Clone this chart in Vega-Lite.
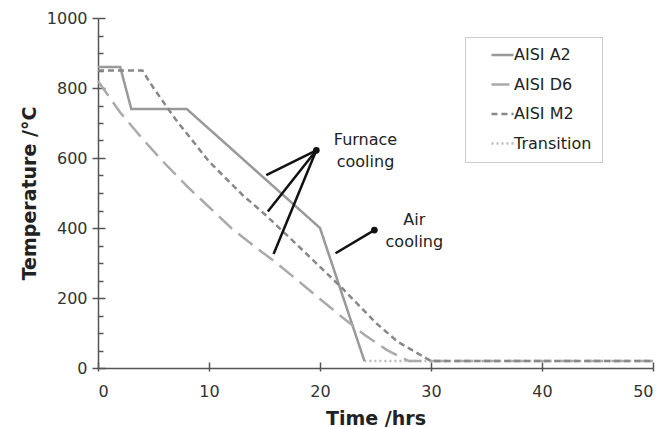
{
  "$schema": "https://vega.github.io/schema/vega-lite/v6.json",
  "width": 555,
  "height": 350,
  "autosize": {"type": "none"},
  "padding": {"left": 98, "top": 18, "right": 11, "bottom": 59},
  "background": "white",
  "config": {
    "view": {"stroke": null},
    "font": "DejaVu Sans",
    "axis": {"grid": false, "domainColor": "#555555", "tickColor": "#555555", "domainWidth": 1.5, "tickWidth": 1.5, "labelFont": "DejaVu Sans", "labelFontSize": 16, "labelColor": "#333333", "titleFont": "DejaVu Sans", "titleFontWeight": "bold", "titleFontSize": 19, "titleColor": "#222222"}
  },
  "datasets": {
    "series": [
      {"series": "Transition", "t": 24, "temp": 20},
      {"series": "Transition", "t": 50, "temp": 20},
      {"series": "AISI A2", "t": 0, "temp": 860},
      {"series": "AISI A2", "t": 2, "temp": 860},
      {"series": "AISI A2", "t": 3, "temp": 740},
      {"series": "AISI A2", "t": 8, "temp": 740},
      {"series": "AISI A2", "t": 20, "temp": 400},
      {"series": "AISI A2", "t": 24, "temp": 20},
      {"series": "AISI D6", "t": 0, "temp": 820},
      {"series": "AISI D6", "t": 2, "temp": 730},
      {"series": "AISI D6", "t": 4, "temp": 655},
      {"series": "AISI D6", "t": 6, "temp": 585},
      {"series": "AISI D6", "t": 8, "temp": 520},
      {"series": "AISI D6", "t": 10, "temp": 460},
      {"series": "AISI D6", "t": 12, "temp": 400},
      {"series": "AISI D6", "t": 14, "temp": 350},
      {"series": "AISI D6", "t": 16, "temp": 302},
      {"series": "AISI D6", "t": 18, "temp": 250},
      {"series": "AISI D6", "t": 20, "temp": 197},
      {"series": "AISI D6", "t": 22, "temp": 145},
      {"series": "AISI D6", "t": 24, "temp": 95},
      {"series": "AISI D6", "t": 26, "temp": 52},
      {"series": "AISI D6", "t": 28, "temp": 20},
      {"series": "AISI D6", "t": 50, "temp": 20},
      {"series": "AISI M2", "t": 0, "temp": 850},
      {"series": "AISI M2", "t": 4, "temp": 850},
      {"series": "AISI M2", "t": 5, "temp": 800},
      {"series": "AISI M2", "t": 7, "temp": 710},
      {"series": "AISI M2", "t": 10, "temp": 590},
      {"series": "AISI M2", "t": 13, "temp": 495},
      {"series": "AISI M2", "t": 15, "temp": 440},
      {"series": "AISI M2", "t": 18, "temp": 350},
      {"series": "AISI M2", "t": 22, "temp": 228},
      {"series": "AISI M2", "t": 25, "temp": 130},
      {"series": "AISI M2", "t": 27, "temp": 75},
      {"series": "AISI M2", "t": 30, "temp": 20},
      {"series": "AISI M2", "t": 50, "temp": 20}
    ],
    "pointers": [
      {"g": "f1", "t": 19.67, "temp": 622},
      {"g": "f1", "t": 15.16, "temp": 551},
      {"g": "f2", "t": 19.67, "temp": 622},
      {"g": "f2", "t": 15.3, "temp": 447},
      {"g": "f3", "t": 19.67, "temp": 622},
      {"g": "f3", "t": 15.82, "temp": 326},
      {"g": "a1", "t": 24.9, "temp": 394},
      {"g": "a1", "t": 21.4, "temp": 328}
    ],
    "dots": [
      {"t": 19.67, "temp": 622},
      {"t": 24.9, "temp": 394}
    ],
    "labels": [
      {"t": 24.1, "temp": 651, "text": "Furnace"},
      {"t": 24.1, "temp": 589, "text": "cooling"},
      {"t": 28.5, "temp": 423, "text": "Air"},
      {"t": 28.5, "temp": 360, "text": "cooling"}
    ]
  },
  "resolve": {"axis": {"x": "independent", "y": "independent"}},
  "layer": [
    {
      "data": {"name": "series"},
      "mark": {"type": "line", "strokeWidth": 2.5},
      "encoding": {
        "x": {"field": "t", "type": "quantitative", "scale": {"domain": [0, 50], "nice": false, "zero": false},
              "axis": {"orient": "bottom", "title": "Time /hrs", "values": [0, 10, 20, 30, 40, 50], "tickSize": 3, "labelPadding": 12, "titlePadding": 10}},
        "y": {"field": "temp", "type": "quantitative", "scale": {"domain": [0, 1000], "nice": false},
              "axis": {"orient": "left", "title": "Temperature /°C", "format": "d", "values": [0, 200, 400, 600, 800, 1000], "tickSize": 6, "labelPadding": 5, "titlePadding": 7}},
        "color": {"field": "series", "type": "nominal",
                  "scale": {"domain": ["AISI A2", "AISI D6", "AISI M2", "Transition"], "range": ["#999999", "#aaaaaa", "#888888", "#bbbbbb"]},
                  "legend": {"title": null, "orient": "none", "legendX": 367, "legendY": 19, "padding": 10, "rowPadding": 13.5, "symbolOffset": 19.5, "labelOffset": 3.5, "symbolType": "M-1.7,0H1.7", "symbolSize": 169, "symbolStrokeWidth": 2.5, "labelFont": "DejaVu Sans", "labelFontSize": 16, "labelColor": "#222222", "strokeColor": "#cccccc", "fillColor": "white", "labelExpr": "datum.label + '      '"}},
        "strokeDash": {"field": "series", "type": "nominal",
                       "scale": {"domain": ["AISI A2", "AISI D6", "AISI M2", "Transition"], "range": [[1, 0], [18, 8], [6, 4], [2, 3]]},
                       "legend": {"title": null}},
        "order": {"field": "t", "type": "quantitative"}
      }
    },
    {
      "data": {"name": "pointers"},
      "mark": {"type": "line", "color": "#111111", "strokeWidth": 2.5},
      "encoding": {
        "x": {"field": "t", "type": "quantitative", "axis": {"orient": "bottom", "title": null, "labels": false, "domain": false, "values": [0, 10, 20, 30, 40, 50], "tickSize": -6}},
        "y": {"field": "temp", "type": "quantitative", "axis": {"orient": "left", "title": null, "labels": false, "domain": false, "values": [50, 100, 150, 250, 300, 350, 450, 500, 550, 650, 700, 750, 850, 900, 950], "tickSize": -5}},
        "detail": {"field": "g", "type": "nominal"}
      }
    },
    {
      "data": {"name": "dots"},
      "mark": {"type": "point", "filled": true, "color": "#111111", "size": 45, "opacity": 1},
      "encoding": {
        "x": {"field": "t", "type": "quantitative", "axis": null},
        "y": {"field": "temp", "type": "quantitative", "axis": {"orient": "left", "title": null, "labels": false, "domain": false, "values": [0, 200, 400, 600, 800, 1000], "tickSize": -7}}
      }
    },
    {
      "data": {"name": "labels"},
      "mark": {"type": "text", "font": "DejaVu Sans", "fontSize": 16, "color": "#222222", "align": "center", "baseline": "middle"},
      "encoding": {
        "x": {"field": "t", "type": "quantitative", "axis": null},
        "y": {"field": "temp", "type": "quantitative", "axis": null},
        "text": {"field": "text"}
      }
    }
  ]
}
